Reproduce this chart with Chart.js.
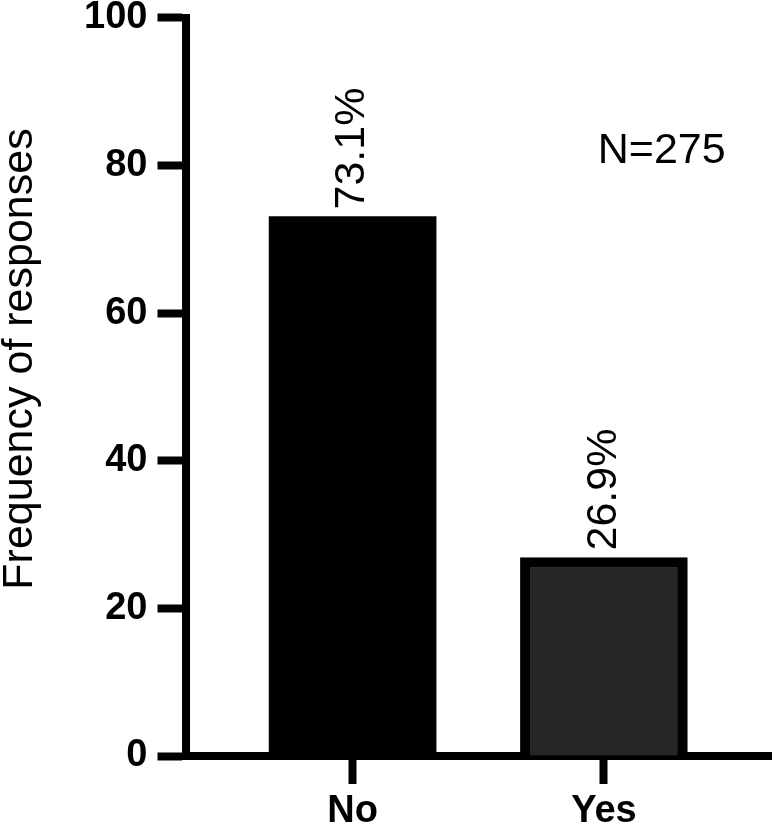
<!DOCTYPE html>
<html>
<head>
<meta charset="utf-8">
<script src="https://cdn.jsdelivr.net/npm/chart.js@4/dist/chart.umd.min.js"></script>
<style>
  html, body { margin: 0; padding: 0; background: #fff; }
  #wrap { width: 774px; height: 831px; }
</style>
</head>
<body>
<div id="wrap"><canvas id="myChart" width="774" height="831"></canvas></div>
<script>
// respuestas (No / Yes)
const categorias = ['No', 'Yes'];
const valores = [73.1, 26.9];
const etiquetas = ['73.1%', '26.9%'];
const colores = ['#000000', '#262626'];
const ticksY = [0, 20, 40, 60, 80, 100];
const tituloY = 'Frequency of responses';
const nota = 'N=275';

const FUENTE = '"Liberation Sans", Arial, Helvetica, sans-serif';

// dibuja etiquetas giradas, la nota y el titulo del eje Y
const textoExtra = {
    id: 'textoExtra',
    afterDatasetsDraw(chart) {
        const ctx = chart.ctx;
        const meta = chart.getDatasetMeta(0);
        const area = chart.chartArea;
        ctx.save();
        ctx.fillStyle = '#000';
        ctx.font = '43px ' + FUENTE;
        meta.data.forEach((bar, i) => {
            ctx.save();
            ctx.translate(bar.x, bar.y - 7);
            ctx.rotate(-Math.PI / 2);
            ctx.textAlign = 'left';
            ctx.textBaseline = 'middle';
            ctx.fillText(etiquetas[i], 0, 0);
            ctx.restore();
        });

        const xs = chart.scales.x, ys = chart.scales.y;
        ctx.textAlign = 'center';
        ctx.textBaseline = 'middle';
        ctx.fillText(nota, xs.getPixelForValue(1.23), ys.getPixelForValue(82));

        ctx.save();
        ctx.translate(20, (area.top + area.bottom) / 2 - 28);
        ctx.rotate(-Math.PI / 2);
        ctx.fillText(tituloY, 0, 0);
        ctx.restore();
        ctx.restore();
    }
};

const ctx = document.getElementById('myChart').getContext('2d');
const myChart = new Chart(ctx, {
    type: 'bar',
    data: {
        datasets: [{
            data: valores.map((v, i) => ({ x: i, y: v })),
            backgroundColor: colores,
            borderColor: '#000',
            borderWidth: [0, 10],
            barThickness: 167
        }]
    },
    options: {
        responsive: false,
        animation: false,
        devicePixelRatio: 1,
        layout: { padding: { left: 0, right: 3, top: 0, bottom: 0 } },
        plugins: {
            legend: { display: false },
            tooltip: { enabled: false }
        },
        scales: {
            x: {
                type: 'linear',
                min: -0.665,
                max: 1.665,
                offset: false,
                z: 1,
                afterBuildTicks: (scale) => {
                    scale.ticks = categorias.map((c, i) => ({ value: i }));
                },
                afterFit: (scale) => { scale.height = 75; },
                grid: {
                    offset: false,
                    drawOnChartArea: false,
                    drawTicks: true,
                    tickLength: 28,
                    tickWidth: 8,
                    tickColor: '#000'
                },
                border: { display: true, width: 8, color: '#000' },
                ticks: {
                    padding: 9,
                    color: '#000',
                    font: { family: FUENTE, size: 38, weight: 'bold', lineHeight: 1 },
                    callback: (v) => categorias[v] ?? ''
                }
            },
            y: {
                min: 0,
                max: 100,
                afterBuildTicks: (scale) => {
                    scale.ticks = ticksY.map(v => ({ value: v }));
                },
                afterFit: (scale) => { scale.width = 185.5; },
                grid: {
                    drawOnChartArea: false,
                    drawTicks: true,
                    tickLength: 28,
                    tickWidth: 8,
                    tickColor: '#000'
                },
                border: { display: true, width: 8, color: '#000' },
                ticks: {
                    padding: 10,
                    color: '#000',
                    font: { family: FUENTE, size: 38, weight: 'bold', lineHeight: 0.42 }
                }
            }
        }
    },
    plugins: [textoExtra]
});

window.myChart = myChart;
</script>
</body>
</html>
